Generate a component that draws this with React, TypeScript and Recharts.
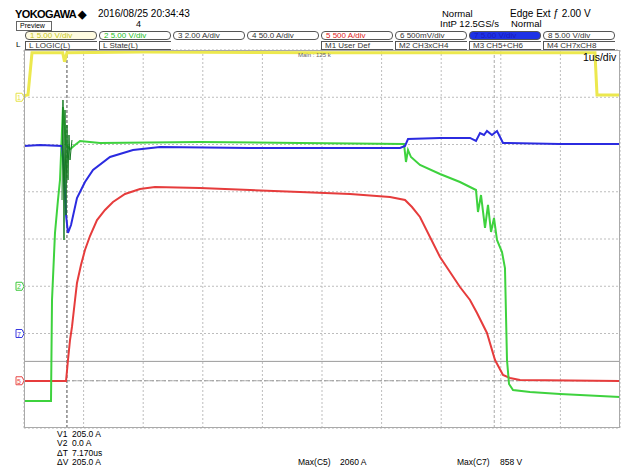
import React from "react";
import {
  CartesianGrid,
  Line,
  LineChart,
  ReferenceDot,
  ReferenceLine,
  XAxis,
  YAxis,
} from "recharts";

// time in us (1 us/div, 10 div), level in divisions (0 = bottom of screen, 8 = top)
const xTicks = [0, 1, 2, 3, 4, 5, 6, 7, 8, 9, 10];
const yTicks = [0, 1, 2, 3, 4, 5, 6, 7, 8];

const ch1Yellow = [
  [0, 7.03], [0.067, 7.05], [0.134, 7.94], [0.65, 7.94], [0.68, 7.75], [0.72, 7.94],
  [2.0, 7.96], [5.0, 7.94], [9.58, 7.94], [9.614, 7.05], [10, 7.05],
];

const ch2Green = [
  [0, 0.571], [0.453, 0.571], [0.47, 2.709], [0.52, 4.127], [0.57, 4.825], [0.604, 5.249],
  [0.638, 6.307], [0.654, 6.794], [0.705, 6.0], [0.772, 5.9], [0.856, 5.989], [0.94, 6.074],
  [1.275, 6.032], [2.953, 6.053], [4.631, 6.032], [6.376, 6.011], [6.409, 5.63], [6.443, 5.884],
  [6.493, 5.735], [6.644, 5.566], [6.98, 5.376], [7.315, 5.206], [7.584, 5.037], [7.617, 4.571],
  [7.668, 4.931], [7.735, 4.233], [7.785, 4.72], [7.836, 4.148], [7.886, 4.444], [7.936, 3.979],
  [8.02, 3.725], [8.07, 3.386], [8.104, 1.439], [8.138, 0.931], [8.205, 0.804], [8.49, 0.762],
  [8.993, 0.72], [10, 0.656],
];

const ch2Ringing = [
  [0.638, 4.825], [0.654, 6.942], [0.671, 3.979], [0.688, 6.73], [0.705, 4.508], [0.721, 6.413],
  [0.738, 5.249], [0.755, 6.201], [0.772, 5.672], [0.805, 6.095],
];

const ch5Red = [
  [0, 0.995], [0.705, 0.995], [0.721, 1.206], [0.738, 1.439], [0.772, 1.862], [0.805, 2.138],
  [0.856, 2.709], [0.889, 3.069], [0.956, 3.45], [1.023, 3.767], [1.107, 4.063], [1.225, 4.402],
  [1.359, 4.614], [1.493, 4.783], [1.695, 4.952], [1.946, 5.058], [2.198, 5.101], [2.953, 5.079],
  [3.792, 5.037], [4.631, 4.995], [5.47, 4.952], [6.141, 4.889], [6.393, 4.825], [6.51, 4.677],
  [6.644, 4.466], [6.98, 3.619], [7.315, 2.984], [7.483, 2.709], [7.601, 2.434], [7.768, 2.011],
  [7.903, 1.439], [8.037, 1.122], [8.154, 1.058], [8.322, 1.016], [10, 0.995],
];

const ch7Blue = [
  [0, 5.968], [0.268, 5.99], [0.638, 5.968], [0.671, 5.46], [0.705, 4.508], [0.738, 4.127],
  [0.789, 4.296], [0.889, 4.868], [1.023, 5.206], [1.158, 5.46], [1.443, 5.735], [1.829, 5.884],
  [2.282, 5.947], [3.792, 5.926], [6.309, 5.926], [6.393, 5.968], [6.443, 6.116], [6.98, 6.138],
  [7.483, 6.138], [7.584, 6.074], [7.651, 6.243], [7.718, 6.201], [7.768, 6.286], [7.852, 6.201],
  [7.936, 6.286], [7.987, 6.159], [8.037, 6.032], [8.993, 6.011], [10, 6.011],
];

// ground level markers on the left edge
const markers = [
  { label: "1", level: 7, color: "#e6e24a" },
  { label: "2", level: 3, color: "#3cc83c" },
  { label: "7", level: 2, color: "#3a3ae0" },
  { label: "5", level: 1, color: "#e84a4a" },
];

const channelBoxes = [
  { text: "1  5.00 V/div", color: "#c8c820", fill: "#fffbe0" },
  { text: "2  5.00 V/div", color: "#22c022", fill: "#fff" },
  { text: "3  2.00 A/div", color: "#333", fill: "#fff" },
  { text: "4  50.0 A/div", color: "#333", fill: "#fff" },
  { text: "5   500 A/div", color: "#e02020", fill: "#fff" },
  { text: "6  500mV/div", color: "#333", fill: "#fff" },
  { text: "7  5.00 V/div", color: "#1a1ab8", fill: "#1e32e6" },
  { text: "8  5.00 V/div", color: "#333", fill: "#fff" },
];

const mathBoxes = ["L  LOGIC(L)", "L  State(L)", "", "", "M1 User Def", "M2 CH3xCH4", "M3 CH5+CH6", "M4 CH7xCH8"];

const cursorText = [
  ["V1", "205.0 A"],
  ["V2", "0.0 A"],
  ["\u0394T", "7.170us"],
  ["\u0394V", "205.0 A"],
];

const cursorT1 = 0.72;
const cursorT2 = 7.89;
const cursorV1 = 1.41;
const cursorV2 = 1.0;

const minorX = Array.from({ length: 51 }, (_, i) => i * 0.2);
const minorY = Array.from({ length: 41 }, (_, i) => i * 0.2);

const toPts = (arr: number[][]) => arr.map(([t, v]) => ({ t, v }));

const font = "'Liberation Sans', Arial, sans-serif";

const Marker = ({ cx, cy, color, label }: any) => (
  <g>
    <path
      d={`M ${cx - 8} ${cy - 4} L ${cx - 2} ${cy - 4} L ${cx} ${cy} L ${cx - 2} ${cy + 4} L ${cx - 8} ${cy + 4} Z`}
      fill="#fff"
      stroke={color}
      strokeWidth={1}
    />
    <text x={cx - 5} y={cy + 3} fontSize={7} fill={color} textAnchor="middle" fontFamily={font}>
      {label}
    </text>
  </g>
);

const abs = (left: number, top: number, extra: React.CSSProperties = {}): React.CSSProperties => ({
  position: "absolute",
  left,
  top,
  whiteSpace: "nowrap",
  fontFamily: font,
  lineHeight: 1,
  ...extra,
});

export default function App() {
  return (
    <div style={{ position: "absolute", left: 0, top: 0, width: 621, height: 471, background: "#fff" }}>
      <LineChart
        width={621}
        height={471}
        margin={{ top: 50, right: 1, bottom: 43, left: 24 }}
      >
        <XAxis dataKey="t" type="number" domain={[0, 10]} ticks={xTicks} hide />
        <YAxis type="number" domain={[0, 8]} ticks={yTicks} hide />
        <XAxis xAxisId="m" dataKey="t" type="number" domain={[0, 10]} ticks={minorX} hide />
        <YAxis yAxisId="m" type="number" domain={[0, 8]} ticks={minorY} hide />
        <CartesianGrid xAxisId="m" yAxisId="m" stroke="#e6e6e6" strokeDasharray="1 3" />
        <CartesianGrid stroke="#bdbdbd" strokeDasharray="2 2" />
        <ReferenceLine y={cursorV1} stroke="#9a9a9a" strokeWidth={1} />
        <ReferenceLine y={cursorV2} stroke="#9a9a9a" strokeDasharray="4 2" />
        <ReferenceLine x={cursorT1} stroke="#888" strokeDasharray="3 2" strokeWidth={1.5} />
        <ReferenceLine x={cursorT2} stroke="#aaa" strokeDasharray="3 2" />
        <Line data={toPts(ch1Yellow)} dataKey="v" stroke="#ece84e" strokeWidth={3} dot={false} isAnimationActive={false} />
        <Line data={toPts(ch5Red)} dataKey="v" stroke="#e63c3c" strokeWidth={2} dot={false} isAnimationActive={false} />
        <Line data={toPts(ch2Green)} dataKey="v" stroke="#3ed23e" strokeWidth={2} dot={false} isAnimationActive={false} />
        <Line data={toPts(ch7Blue)} dataKey="v" stroke="#2b2be0" strokeWidth={2} dot={false} isAnimationActive={false} />
        <Line data={toPts(ch2Ringing)} dataKey="v" stroke="#157a22" strokeWidth={1} dot={false} isAnimationActive={false} />
        {markers.map((m) => (
          <ReferenceDot
            key={m.label}
            x={0}
            y={m.level}
            r={0}
            ifOverflow="visible"
            shape={(p: any) => <Marker cx={p.cx} cy={p.cy} color={m.color} label={m.label} />}
          />
        ))}
      </LineChart>

      {/* plot frame */}
      <div style={{ position: "absolute", left: 24, top: 50, width: 596, height: 378, border: "1px solid #aaa", boxSizing: "border-box" }} />

      {/* header */}
      <div style={abs(15, 9, { fontSize: 11, fontWeight: "bold", letterSpacing: -0.6 })}>YOKOGAWA &#9670;</div>
      <div style={abs(98, 9, { fontSize: 10 })}>2016/08/25 20:34:43</div>
      <div style={abs(136, 20, { fontSize: 9 })}>4</div>
      <div style={abs(16, 21, { fontSize: 7, border: "1px solid #666", padding: "0 6px 0 3px", height: 8 })}>Preview</div>
      <div style={abs(442, 9, { fontSize: 9.5 })}>Normal</div>
      <div style={abs(510, 9, { fontSize: 10 })}>Edge Ext &#402; 2.00 V</div>
      <div style={abs(440, 19, { fontSize: 9.5 })}>IntP  12.5GS/s</div>
      <div style={abs(511, 19, { fontSize: 9.5 })}>Normal</div>

      {channelBoxes.map((b, i) => (
        <div
          key={b.text}
          style={abs(25 + i * 74, 31, {
            width: 72,
            height: 9,
            fontSize: 8,
            color: b.color,
            background: b.fill,
            border: "1px solid #555",
            borderRadius: 4,
            paddingLeft: 4,
            boxSizing: "border-box",
          })}
        >
          {b.text}
        </div>
      ))}
      <div style={abs(16, 41, { fontSize: 8 })}>L</div>
      {mathBoxes.map((t, i) =>
        t ? (
          <div
            key={t}
            style={abs(25 + i * 74, 41, {
              width: 72,
              height: 9,
              fontSize: 8,
              color: "#333",
              borderLeft: "1px solid #555",
              borderTop: "1px solid #555",
              borderBottom: "1px solid #555",
              paddingLeft: 3,
              boxSizing: "border-box",
            })}
          >
            {t}
          </div>
        ) : null
      )}
      <div style={abs(298, 52, { fontSize: 6, color: "#666" })}>Main : 125 k</div>
      <div style={abs(583, 52, { fontSize: 10.5 })}>1us/div</div>

      {/* cursor readout */}
      {cursorText.map(([k, v], i) => (
        <React.Fragment key={k}>
          <div style={abs(57, 430 + i * 9.3, { fontSize: 8.5 })}>{k}</div>
          <div style={abs(72, 430 + i * 9.3, { fontSize: 8.5 })}>{v}</div>
        </React.Fragment>
      ))}
      <div style={abs(298, 458, { fontSize: 8.5 })}>Max(C5)</div>
      <div style={abs(340, 458, { fontSize: 8.5 })}>2060 A</div>
      <div style={abs(457, 458, { fontSize: 8.5 })}>Max(C7)</div>
      <div style={abs(500, 458, { fontSize: 8.5 })}>858 V</div>
    </div>
  );
}
